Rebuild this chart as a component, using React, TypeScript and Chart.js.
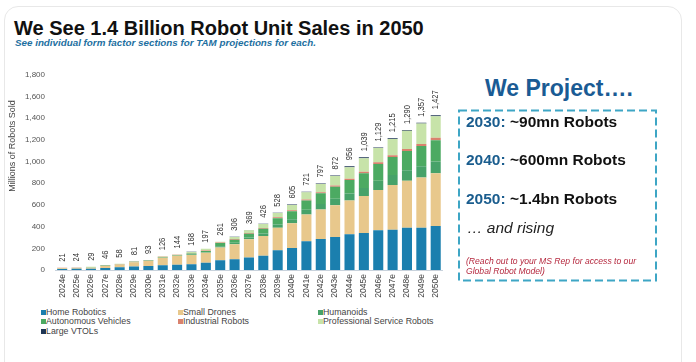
import React, { useEffect, useRef } from "react";
import { Chart, registerables } from "chart.js";

Chart.register(...registerables);

const years = [
  "2024e", "2025e", "2026e", "2027e", "2028e", "2029e", "2030e", "2031e", "2032e",
  "2033e", "2034e", "2035e", "2036e", "2037e", "2038e", "2039e", "2040e", "2041e",
  "2042e", "2043e", "2044e", "2045e", "2046e", "2047e", "2048e", "2049e", "2050e",
];
const homeRobotics = [9, 11, 12, 18, 25, 32, 38, 44, 48, 54, 66, 90, 100, 116, 131, 183, 204, 265, 286, 305, 329, 341, 366, 372, 390, 390, 405];
const smallDrones = [8, 7, 9, 20, 26, 40, 46, 70, 84, 85, 92, 117, 138, 167, 183, 207, 226, 247, 271, 292, 311, 342, 371, 411, 433, 463, 488];
const humanoids = [0, 0, 0, 1, 1, 1, 1, 2, 2, 4, 5, 12, 13, 16, 22, 30, 38, 44, 52, 60, 66, 74, 85, 92, 97, 103, 108];
const autonomousVehicles = [1, 1, 1, 2, 2, 3, 3, 4, 4, 8, 13, 31, 29, 36, 45, 58, 74, 84, 98, 111, 123, 136, 156, 167, 177, 187, 196];
const industrialRobots = [2, 2, 2, 2, 2, 3, 3, 3, 3, 4, 4, 4, 5, 6, 7, 8, 9, 10, 11, 12, 13, 14, 16, 17, 19, 20, 22];
const professionalService = [1, 3, 5, 3, 2, 2, 2, 3, 3, 12, 16, 6, 20, 26, 36, 39, 48, 68, 75, 87, 106, 123, 130, 150, 167, 187, 198];
const largeVTOLs = [0, 0, 0, 0, 0, 0, 0, 0, 0, 1, 1, 1, 1, 2, 2, 3, 6, 3, 4, 5, 8, 9, 5, 6, 7, 7, 10];
const totalLabels = [21, 24, 29, 46, 58, 81, 93, 126, 144, 168, 197, 261, 306, 369, 426, 528, 605, 721, 797, 872, 956, 1039, 1129, 1215, 1290, 1357, 1427];
const yTicks = [0, 200, 400, 600, 800, 1000, 1200, 1400, 1600, 1800];

const seriesNames = [
  "Home Robotics",
  "Small Drones",
  "Humanoids",
  "Autonomous Vehicles",
  "Industrial Robots",
  "Professional Service Robots",
  "Large VTOLs",
];
const seriesColors = ["#1b7fae", "#e8c88c", "#47a269", "#4caa62", "#d9826e", "#c7e3a9", "#1e3554"];
const seriesData = [homeRobotics, smallDrones, humanoids, autonomousVehicles, industrialRobots, professionalService, largeVTOLs];

const FONT = '"Liberation Sans", Arial, sans-serif';

const overlayPlugin = {
  id: "overlay",
  afterDatasetsDraw(chart: any) {
    const { ctx, scales } = chart;
    ctx.save();
    ctx.fillStyle = "#333";
    ctx.font = `9.5px ${FONT}`;
    ctx.textAlign = "left";
    ctx.textBaseline = "middle";
    totalLabels.forEach((t, i) => {
      const x = scales.x.getPixelForValue(i);
      const y = scales.y.getPixelForValue(t);
      ctx.save();
      ctx.translate(x, y - 6);
      ctx.rotate(-Math.PI / 2);
      ctx.scale(0.8, 1);
      ctx.fillText(t.toLocaleString("en-US"), 0, 0);
      ctx.restore();
    });
    // y-axis title
    ctx.save();
    ctx.fillStyle = "#444";
    ctx.font = `9px ${FONT}`;
    ctx.textAlign = "center";
    ctx.translate(13, 86);
    ctx.rotate(-Math.PI / 2);
    ctx.fillText("Millions of Robots Sold", 0, 0);
    ctx.restore();
    ctx.restore();
  },
};

function Txt(props: { x: number; base: number; size: number; style?: React.CSSProperties; children: React.ReactNode }) {
  const { x, base, size, style, children } = props;
  return (
    <div
      style={{
        position: "absolute",
        left: x,
        top: base - 0.8465 * size,
        fontSize: size,
        lineHeight: `${size}px`,
        fontFamily: FONT,
        whiteSpace: "nowrap",
        ...style,
      }}
    >
      {children}
    </div>
  );
}

const legendCols = [41, 178, 318];
const legendRows = [312, 321.5, 331];

export default function App() {
  const ref = useRef<HTMLCanvasElement>(null);

  useEffect(() => {
    document.body.style.margin = "0";
    const chart = new Chart(ref.current!, {
      type: "bar",
      data: {
        labels: years,
        datasets: seriesNames.map((name, k) => ({
          label: name,
          data: seriesData[k],
          backgroundColor: seriesColors[k],
          borderWidth: 0,
          categoryPercentage: 1,
          barPercentage: 0.7,
        })),
      },
      options: {
        responsive: false,
        animation: false,
        devicePixelRatio: 1,
        layout: { padding: { top: 13, right: 5, left: 0, bottom: 0 } },
        plugins: { legend: { display: false }, tooltip: { enabled: false } },
        scales: {
          x: {
            stacked: true,
            grid: { display: false, drawTicks: false },
            border: { display: true, color: "#c8d2dc", width: 1 },
            ticks: {
              minRotation: 90,
              maxRotation: 90,
              autoSkip: false,
              padding: 4,
              color: "#444",
              font: { family: FONT, size: 8.5 },
            },
            afterFit: (s: any) => {
              s.height = 35;
            },
          },
          y: {
            stacked: true,
            min: 0,
            max: 1800,
            grid: { display: false, drawTicks: false },
            border: { display: false },
            afterBuildTicks: (s: any) => {
              s.ticks = yTicks.map((v) => ({ value: v }));
            },
            ticks: {
              padding: 10,
              color: "#555",
              font: { family: FONT, size: 8 },
              callback: (v: any) => Number(v).toLocaleString("en-US"),
            },
            afterFit: (s: any) => {
              s.width = 55;
            },
          },
        },
      },
      plugins: [overlayPlugin],
    });
    return () => chart.destroy();
  }, []);

  return (
    <div style={{ position: "absolute", left: 0, top: 0, width: 696, height: 362, background: "#fff", overflow: "hidden" }}>
      <div
        style={{
          position: "absolute",
          left: 4,
          top: 6,
          width: 676,
          height: 380,
          border: "1px solid #e8e8e8",
          borderRadius: 14,
        }}
      />
      <Txt x={14} base={35} size={20} style={{ fontWeight: "bold", color: "#111" }}>
        We See 1.4 Billion Robot Unit Sales in 2050
      </Txt>
      <Txt x={15} base={46.5} size={9.8} style={{ fontWeight: "bold", fontStyle: "italic", color: "#1d6f9f" }}>
        See individual form factor sections for TAM projections for each.
      </Txt>

      <canvas ref={ref} width={450} height={245} style={{ position: "absolute", left: 0, top: 60, width: 450, height: 245 }} />

      {seriesNames.map((name, k) => {
        const col = k === 6 ? 0 : k % 3;
        const row = k === 6 ? 2 : Math.floor(k / 3);
        const x = legendCols[col];
        const y = legendRows[row];
        return (
          <React.Fragment key={name}>
            <div style={{ position: "absolute", left: x, top: y - 2.5, width: 5, height: 5, background: seriesColors[k] }} />
            <Txt x={x + 5} base={y + 3.2} size={8.8} style={{ color: "#444" }}>
              {name}
            </Txt>
          </React.Fragment>
        );
      })}

      <Txt x={485} base={96.5} size={23} style={{ fontWeight: "bold", color: "#1a5b94" }}>
        We Project….
      </Txt>
      <svg style={{ position: "absolute", left: 0, top: 0 }} width={696} height={362}>
        <rect x={459} y={110.5} width={197} height={170} fill="none" stroke="#3ea6c5" strokeWidth={2} strokeDasharray="8 4" />
      </svg>
      {[
        ["2030:", " ~90mn Robots", 127],
        ["2040:", " ~600mn Robots", 165.5],
        ["2050:", " ~1.4bn Robots", 204],
      ].map(([a, b, base]) => (
        <Txt key={a as string} x={466} base={base as number} size={15.5} style={{ fontWeight: "bold", color: "#111" }}>
          <span style={{ color: "#1a5d8e" }}>{a}</span>
          {b}
        </Txt>
      ))}
      <Txt x={467} base={233} size={15.5} style={{ fontStyle: "italic", color: "#222" }}>
        … and rising
      </Txt>
      <Txt x={466} base={264} size={8.6} style={{ fontStyle: "italic", color: "#b5283e" }}>
        (Reach out to your MS Rep for access to our
      </Txt>
      <Txt x={466} base={274} size={8.6} style={{ fontStyle: "italic", color: "#b5283e" }}>
        Global Robot Model)
      </Txt>
    </div>
  );
}
